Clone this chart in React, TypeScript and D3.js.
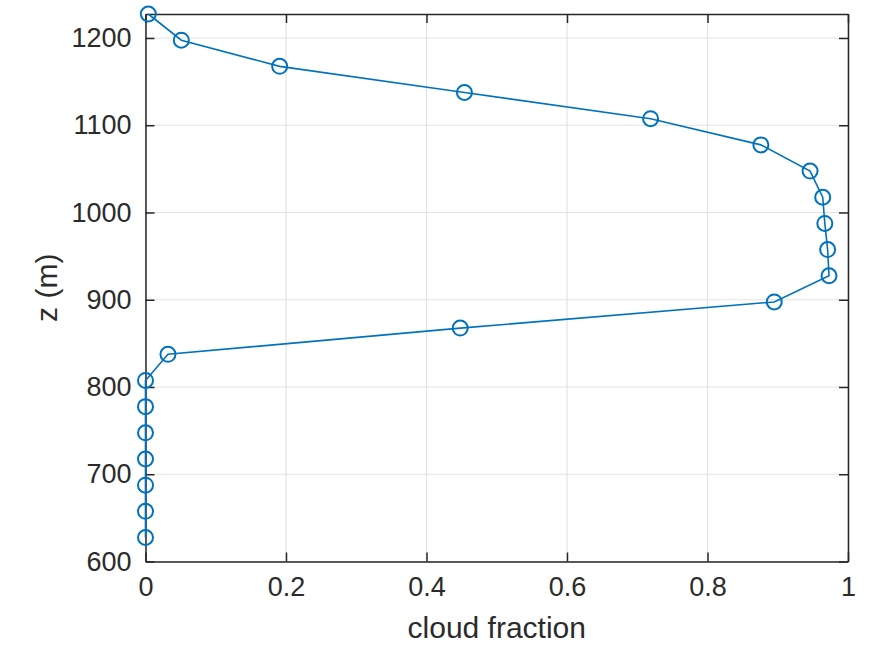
import React, { useEffect, useRef } from 'react';
import * as d3 from 'd3';

// height levels (m) and cloud fraction at each level
const heights: number[] = [
  627.5, 657.5, 687.5, 717.5, 747.5, 777.5, 807.5, 837.5, 867.5, 897.5, 927.5,
  957.5, 987.5, 1017.5, 1047.5, 1077.5, 1107.5, 1137.5, 1167.5, 1197.5, 1227.5,
];
const cloudFraction: number[] = [
  0, 0, 0, 0, 0, 0, 0, 0.032, 0.448, 0.895, 0.973,
  0.971, 0.967, 0.964, 0.946, 0.876, 0.719, 0.454, 0.191, 0.051, 0.004,
];
const xTicks: number[] = [0, 0.2, 0.4, 0.6, 0.8, 1];
const yTicks: number[] = [600, 700, 800, 900, 1000, 1100, 1200];

const xLabel = 'cloud fraction';
const yLabel = 'z (m)';

const App: React.FC = () => {
  const ref = useRef<SVGSVGElement>(null);

  useEffect(() => {
    if (!ref.current) return;
    const svg = d3.select(ref.current);
    svg.selectAll('*').remove();

    const W = 871;
    const H = 648;
    const margin = { top: 14, right: 23, bottom: 86.5, left: 145.5 };
    const width = W - margin.left - margin.right;
    const height = H - margin.top - margin.bottom;

    const axisColor = '#262626';
    const textColor = '#2b2b2b';
    const gridColor = '#e3e3e3';
    const lineColor = '#0072BD';
    const font = 'Helvetica, Arial, "Liberation Sans", sans-serif';

    const x = d3.scaleLinear().domain([0, 1]).range([0, width]);
    const y = d3.scaleLinear().domain([600, 1227.5]).range([height, 0]);

    const g = svg.append('g').attr('transform', `translate(${margin.left},${margin.top})`);

    // grid
    g.append('g')
      .selectAll('line')
      .data(xTicks)
      .join('line')
      .attr('x1', d => x(d)).attr('x2', d => x(d))
      .attr('y1', 0).attr('y2', height)
      .attr('stroke', gridColor).attr('stroke-width', 1.2);
    g.append('g')
      .selectAll('line')
      .data(yTicks)
      .join('line')
      .attr('x1', 0).attr('x2', width)
      .attr('y1', d => y(d)).attr('y2', d => y(d))
      .attr('stroke', gridColor).attr('stroke-width', 1.2);

    // axes (ticks pointing inward, box on)
    const styleAxis = (sel: d3.Selection<SVGGElement, unknown, null, undefined>) => {
      sel.select('.domain').attr('stroke', axisColor).attr('stroke-width', 1.5);
      sel.selectAll('.tick line').attr('stroke', axisColor).attr('stroke-width', 1.5);
      sel.selectAll('.tick text')
        .attr('fill', textColor)
        .attr('font-family', font)
        .attr('font-size', 27);
    };

    const bottom = g.append('g')
      .attr('transform', `translate(0,${height})`)
      .call(d3.axisBottom(x).tickValues(xTicks).tickFormat(d3.format('~g')).tickSizeInner(-9).tickSizeOuter(0).tickPadding(30));
    styleAxis(bottom);
    bottom.selectAll('.tick text').attr('dy', '0.15em');

    const left = g.append('g')
      .call(d3.axisLeft(y).tickValues(yTicks).tickFormat(d3.format('d')).tickSizeInner(-9).tickSizeOuter(0).tickPadding(14));
    styleAxis(left);

    const top = g.append('g')
      .call(d3.axisTop(x).tickValues(xTicks).tickFormat(() => '').tickSizeInner(-9).tickSizeOuter(0));
    styleAxis(top);

    const right = g.append('g')
      .attr('transform', `translate(${width},0)`)
      .call(d3.axisRight(y).tickValues(yTicks).tickFormat(() => '').tickSizeInner(-9).tickSizeOuter(0));
    styleAxis(right);

    // data line
    const pts = heights.map((h, i) => ({ z: h, f: cloudFraction[i] }));
    const line = d3.line<{ z: number; f: number }>()
      .x(d => x(d.f))
      .y(d => y(d.z));

    g.append('path')
      .datum(pts)
      .attr('fill', 'none')
      .attr('stroke', lineColor)
      .attr('stroke-width', 1.6)
      .attr('d', line);

    g.append('g')
      .selectAll('circle')
      .data(pts)
      .join('circle')
      .attr('cx', d => x(d.f))
      .attr('cy', d => y(d.z))
      .attr('r', 7.5)
      .attr('fill', 'none')
      .attr('stroke', lineColor)
      .attr('stroke-width', 2);

    // labels
    svg.append('text')
      .attr('x', margin.left + width / 2)
      .attr('y', 638)
      .attr('text-anchor', 'middle')
      .attr('font-family', font)
      .attr('font-size', 30)
      .attr('fill', textColor)
      .text(xLabel);

    svg.append('text')
      .attr('transform', `translate(57,${margin.top + height / 2}) rotate(-90)`)
      .attr('text-anchor', 'middle')
      .attr('font-family', font)
      .attr('font-size', 30)
      .attr('fill', textColor)
      .text(yLabel);
  }, []);

  return (
    <svg
      ref={ref}
      width={871}
      height={648}
      style={{ position: 'absolute', left: 0, top: 0, background: '#fff' }}
    />
  );
};

export default App;
